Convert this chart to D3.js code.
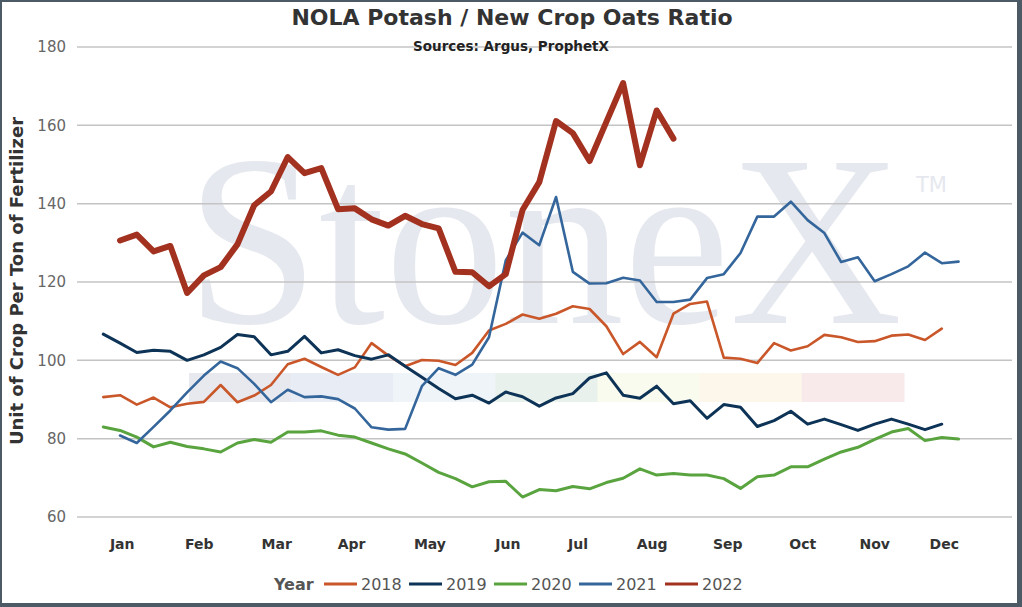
<!DOCTYPE html>
<html><head><meta charset="utf-8">
<script src="https://cdn.jsdelivr.net/npm/d3@7/dist/d3.min.js"></script>
<style>html,body{margin:0;padding:0;background:#fff;}svg{display:block;}</style>
</head><body>
<script>
// ---- data ----
const years = ["2018","2019","2020","2021","2022"];
const colors = ["#c9572a","#0d3357","#5aa440","#34669c","#a33120"];
const widths = [2.6,3,3,2.6,6];
// weekly values starting at week 1 (null = no data)
const s2018 = [90.6,91.1,88.7,90.5,88.0,88.9,89.4,93.7,89.3,91.0,93.7,99.0,100.4,98.3,96.3,98.2,104.4,101.2,98.5,100.1,99.9,98.8,101.9,107.6,109.3,111.7,110.6,111.9,113.8,113.1,108.7,101.6,104.7,100.8,111.9,114.4,115.0,100.7,100.4,99.3,104.4,102.5,103.6,106.5,105.9,104.7,104.9,106.3,106.6,105.2,108.1];
const s2019 = [106.7,104.4,102.0,102.6,102.3,100.0,101.4,103.3,106.6,106.0,101.4,102.3,106.1,101.9,102.7,101.2,100.3,101.4,98.5,95.7,92.8,90.2,91.1,89.1,91.9,90.7,88.3,90.4,91.5,95.5,96.8,91.1,90.3,93.4,88.9,89.7,85.2,88.7,88.0,83.1,84.6,87.0,83.7,85.0,83.6,82.1,83.7,85.0,83.7,82.3,83.7];
const s2020 = [83.0,82.1,80.4,77.9,79.1,78.0,77.4,76.6,78.9,79.8,79.1,81.7,81.7,82.0,80.9,80.4,78.9,77.4,76.1,73.8,71.4,69.8,67.7,69.0,69.1,65.1,67.0,66.7,67.8,67.2,68.8,69.9,72.3,70.7,71.1,70.7,70.7,69.8,67.3,70.3,70.7,72.8,72.8,74.8,76.6,77.8,79.8,81.7,82.6,79.5,80.3,79.9];
const s2021 = [null,80.8,78.9,83.0,87.2,91.8,96.1,99.7,98.0,94.0,89.3,92.5,90.6,90.8,90.1,87.7,82.9,82.3,82.5,93.4,98.0,96.3,98.9,105.9,125.5,132.6,129.4,141.7,122.6,119.6,119.7,121.1,120.4,114.9,114.9,115.5,121.0,122.0,127.4,136.7,136.7,140.5,135.8,132.5,125.1,126.3,120.2,122.0,124.0,127.5,124.8,125.2];
const s2022 = [null,130.6,132.1,127.8,129.2,117.2,121.7,123.8,129.6,139.6,143.1,151.9,147.8,149.1,138.6,138.8,136.0,134.4,136.9,134.8,133.7,122.6,122.5,118.9,122.0,138.4,145.5,161.1,158.0,150.9,160.9,170.8,149.8,163.8,156.6];
const series = [s2018,s2019,s2020,s2021,s2022];
const months = ["Jan","Feb","Mar","Apr","May","Jun","Jul","Aug","Sep","Oct","Nov","Dec"];
const monthWeeks = [2.13,6.72,11.34,15.81,20.48,25.13,29.31,33.73,38.24,42.71,47.0,51.15];
const weekTicks = [0,10,20,30,40,50];
const yTicks = [60,80,100,120,140,160,180];
const bandColors = ["#e7e9ef","#e8edf5","#eff4f9","#e8f1eb","#fafbef","#fdf6ea","#f8e9ea"];

// ---- layout ----
const W = 1022, H = 607;
const svg = d3.select("body").append("svg").attr("width", W).attr("height", H);
const x = d3.scaleLinear().domain([0, 50]).range([86.5, 925]);
const y = d3.scaleLinear().domain([60, 180]).range([517, 47]);
const plotL = 77, plotR = 1012;

// watermark
const wm = svg.append("g");
const bandW = (904 - 189) / bandColors.length;
wm.selectAll("rect").data(bandColors).join("rect")
  .attr("x", (d, i) => 189 + i * bandW).attr("width", bandW + 0.5)
  .attr("y", 373).attr("height", 29).attr("fill", d => d);
wm.append("text").text("StoneX").attr("x", 186).attr("y", 323)
  .attr("font-family", "Liberation Serif, Times New Roman, serif").attr("font-size", 244)
  .attr("textLength", 716).attr("lengthAdjust", "spacingAndGlyphs")
  .attr("fill", "#e5e8ee");
wm.append("text").text("TM").attr("x", 916).attr("y", 192)
  .attr("font-family", "DejaVu Sans, sans-serif").attr("font-size", 21)
  .attr("fill", "#e5e8ee");

// gridlines
svg.append("g").selectAll("line").data(yTicks).join("line")
  .attr("x1", plotL).attr("x2", plotR).attr("y1", d => y(d)).attr("y2", d => y(d))
  .attr("stroke", "#c4c4c4").attr("stroke-width", 1.5);

// y tick labels
svg.append("g").selectAll("text").data(yTicks).join("text")
  .attr("x", 66).attr("y", d => y(d)).attr("dy", "0.36em").attr("text-anchor", "end")
  .attr("font-family", "DejaVu Sans, Verdana, sans-serif").attr("font-size", 15)
  .attr("fill", "#666").text(d => d);

// y title
svg.append("text").attr("transform", "translate(23,281) rotate(-90)")
  .attr("text-anchor", "middle")
  .attr("font-family", "DejaVu Sans, Verdana, sans-serif").attr("font-size", 18)
  .attr("font-weight", "bold").attr("fill", "#333")
  .text("Unit of Crop Per Ton of Fertilizer");

// clipped numeric week axis (only top sliver visible)
svg.append("clipPath").attr("id", "wclip").append("rect")
  .attr("x", 0).attr("y", 523.5).attr("width", W).attr("height", 1.5);
svg.append("g").attr("clip-path", "url(#wclip)").selectAll("text").data(weekTicks).join("text")
  .attr("x", d => x(d)).attr("y", 533.5).attr("text-anchor", "middle")
  .attr("font-family", "DejaVu Sans, sans-serif").attr("font-size", 13)
  .attr("fill", "#777").text(d => d);

// month labels
svg.append("g").selectAll("text").data(months).join("text")
  .attr("x", (d, i) => x(monthWeeks[i])).attr("y", 549).attr("text-anchor", "middle")
  .attr("font-family", "DejaVu Sans, Verdana, sans-serif").attr("font-size", 14)
  .attr("font-weight", "bold").attr("fill", "#333").text(d => d);

// lines
const line = d3.line().defined(d => d.v != null).x(d => x(d.w)).y(d => y(d.v))
  .curve(d3.curveLinear);
const lg = svg.append("g");
series.forEach((s, i) => {
  const pts = s.map((v, j) => ({w: j + 1, v}));
  lg.append("path").datum(pts).attr("d", line).attr("fill", "none")
    .attr("stroke", colors[i]).attr("stroke-width", widths[i])
    .attr("stroke-linejoin", "round").attr("stroke-linecap", "round");
});

// title
svg.append("text").attr("x", 512).attr("y", 25).attr("text-anchor", "middle")
  .attr("font-family", "DejaVu Sans, Verdana, sans-serif").attr("font-size", 22)
  .attr("font-weight", "bold").attr("fill", "#333").text("NOLA Potash / New Crop Oats Ratio");
svg.append("text").attr("x", 511).attr("y", 51).attr("text-anchor", "middle")
  .attr("font-family", "DejaVu Sans, Verdana, sans-serif").attr("font-size", 13.5)
  .attr("font-weight", "bold").attr("fill", "#222").text("Sources: Argus, ProphetX");

// legend
const leg = svg.append("g");
leg.append("text").attr("x", 274).attr("y", 590)
  .attr("font-family", "DejaVu Sans, Verdana, sans-serif").attr("font-size", 16)
  .attr("font-weight", "bold").attr("fill", "#555").text("Year");
const legX = [324, 409, 494, 579, 665];
years.forEach((yr, i) => {
  leg.append("line").attr("x1", legX[i]).attr("x2", legX[i] + 33)
    .attr("y1", 584).attr("y2", 584).attr("stroke", colors[i]).attr("stroke-width", 3);
  leg.append("text").attr("x", legX[i] + 37).attr("y", 590)
    .attr("font-family", "DejaVu Sans, Verdana, sans-serif").attr("font-size", 16)
    .attr("fill", "#555").text(yr);
});

// frame
const fc = "#4c5a66";
svg.append("rect").attr("x", 0).attr("y", 0).attr("width", W).attr("height", 2).attr("fill", fc);
svg.append("rect").attr("x", 0).attr("y", 0).attr("width", 2).attr("height", H).attr("fill", fc);
svg.append("rect").attr("x", 1017).attr("y", 0).attr("width", 5).attr("height", H).attr("fill", fc);
svg.append("rect").attr("x", 0).attr("y", 603).attr("width", W).attr("height", 4).attr("fill", fc);
</script>
</body></html>
